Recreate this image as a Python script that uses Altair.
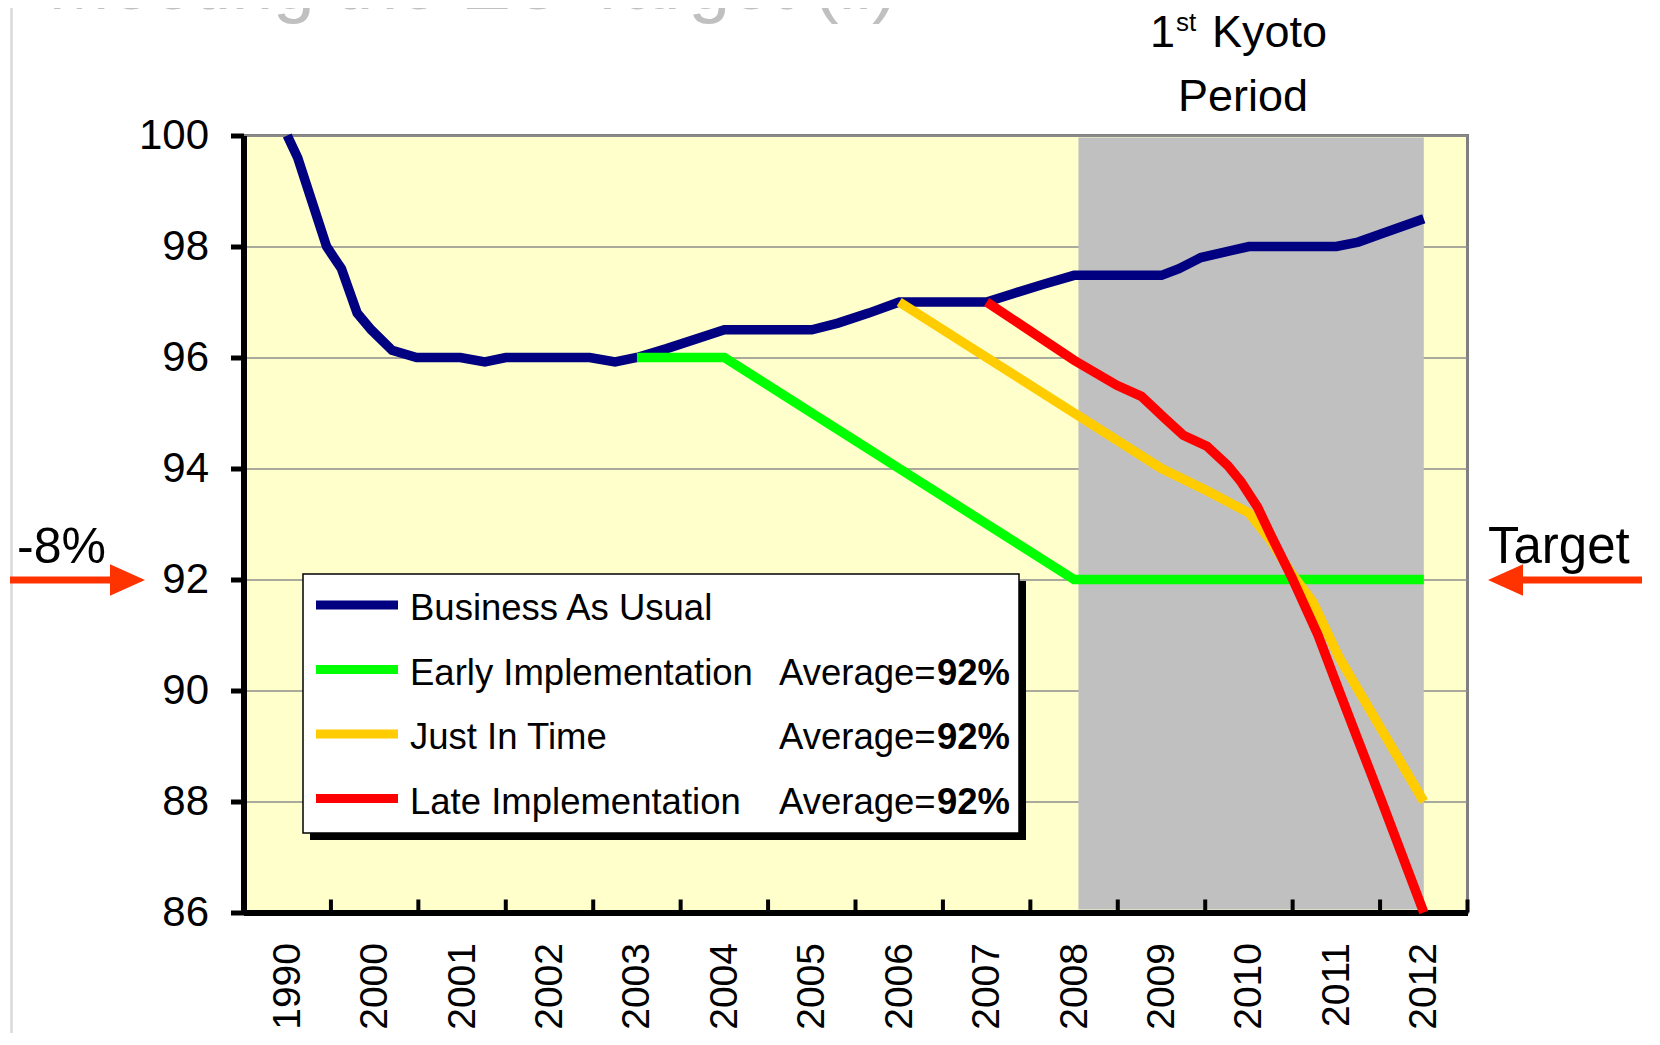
import altair as alt
import pandas as pd

# ---------------- data ----------------
categories = ["1990", "2000", "2001", "2002", "2003", "2004", "2005",
              "2006", "2007", "2008", "2009", "2010", "2011", "2012"]
series_names = ["Business As Usual", "Early Implementation",
                "Just In Time", "Late Implementation"]
series_colors = ["#000080", "#00FF00", "#FFCC00", "#FF0000"]
avg_labels = ["", "92%", "92%", "92%"]
y_ticks = [86, 88, 90, 92, 94, 96, 98, 100]

# positions are category indices (0 = 1990, 1 = 2000, ... 13 = 2012)
bau_pos = [0, 0.12, 0.45, 0.62, 0.80, 0.96, 1.2, 1.48, 1.98, 2.26, 2.5, 3.46,
           3.75, 4.0, 4.34, 5.0, 6.0, 6.3, 6.65, 7.0, 8.0, 8.3, 8.65, 9.0,
           10.0, 10.2, 10.45, 10.72, 11.0, 12.0, 12.25, 12.5, 13.0]
bau_val = [100, 99.6, 98.0, 97.6, 96.8, 96.5, 96.13, 96.0, 96.0, 95.92, 96.0,
           96.0, 95.92, 96.0, 96.16, 96.5, 96.5, 96.62, 96.8, 97.0, 97.0,
           97.15, 97.32, 97.48, 97.48, 97.6, 97.8, 97.9, 98.0, 98.0, 98.08,
           98.22, 98.5]
early_pos = [4, 5, 6, 7, 8, 9, 10, 11, 12, 13]
early_val = [96, 96, 95, 94, 93, 92, 92, 92, 92, 92]
jit_pos = [7, 8, 9, 10, 10.52, 11, 11.25, 11.49, 11.73, 12.03, 13]
jit_val = [97, 96, 95, 94, 93.6, 93.2, 92.7, 92.1, 91.6, 90.6, 88]
late_pos = [8, 9, 9.49, 9.77, 10.04, 10.25, 10.52, 10.76, 10.91, 11.1, 11.25,
            11.49, 11.79, 12.03, 12.25, 12.52, 13.0]
late_val = [97.0, 95.95, 95.5, 95.3, 94.9, 94.6, 94.4, 94.05, 93.76, 93.3,
            92.8, 92.04, 91.0, 90.0, 89.1, 88.0, 86.0]
kyoto_start = 9.05
kyoto_end = 13.0

title_text = "Meeting the EU Target (ii)"
kyoto_one, kyoto_sup, kyoto_word, kyoto_line2 = "1", "st", "Kyoto", "Period"
left_label = "-8%"
right_label = "Target"
avg_prefix = "Average="

# ---------------- layout ----------------
FONT = "Liberation Sans, Arial, sans-serif"
W, H = 1224, 777
PAD_L, PAD_T = 235.5, 127.5
TOTAL_W, TOTAL_H = 1640, 1025
PAD_R = TOTAL_W - PAD_L - W
PAD_B = TOTAL_H - PAD_T - H
ORG_X, ORG_Y = 8 + PAD_L, 8 + PAD_T


def rx(px):
    return px - ORG_X


def ry(py):
    return py - ORG_Y


one = pd.DataFrame({"k": [0]})

rows = []
for name, pos, val in zip(series_names,
                          [bau_pos, early_pos, jit_pos, late_pos],
                          [bau_val, early_val, jit_val, late_val]):
    for p, v in zip(pos, val):
        rows.append({"x": p, "y": v, "series": name})
df = pd.DataFrame(rows)

x_scale = alt.Scale(domain=[-0.5, len(categories) - 0.5], nice=False, zero=False)
y_scale = alt.Scale(domain=[86, 100], nice=False, zero=False)

label_expr = "[" + ",".join("'" + c + "'" for c in categories) + "][datum.value]"
x_axis = alt.Axis(values=list(range(len(categories))), labelExpr=label_expr,
                  labelAngle=270, labelAlign="right", labelBaseline="middle",
                  labelFontSize=39, labelFont=FONT, labelColor="black",
                  labelPadding=30, ticks=False, tickSize=0,
                  domainColor="black", domainWidth=6, grid=False,
                  labelOverlap=False, labelFlush=False, title=None)
y_axis = alt.Axis(values=y_ticks, labelFontSize=42, labelFont=FONT,
                  labelColor="black", labelPadding=22, tickSize=13,
                  tickWidth=5, tickColor="black", domainColor="black",
                  domainWidth=6, gridColor="#8C8C8C", gridWidth=1.5,
                  labelOverlap=False, labelFlush=False, title=None)

layers = []

# Kyoto band
band_df = pd.DataFrame({"start": [kyoto_start], "end": [kyoto_end]})
layers.append(
    alt.Chart(band_df).mark_rect(color="#C0C0C0").encode(
        x=alt.X("start:Q", scale=x_scale, axis=x_axis, title=None),
        x2="end:Q",
        y=alt.value(2), y2=alt.value(H - 3))
)

# inward x ticks at category boundaries
tick_df = pd.DataFrame({"b": [k + 0.5 for k in range(len(categories))]})
layers.append(
    alt.Chart(tick_df).mark_rule(color="black", strokeWidth=4).encode(
        x=alt.X("b:Q", scale=x_scale, axis=x_axis, title=None),
        y=alt.value(H - 13), y2=alt.value(H))
)

# lines
layers.append(
    alt.Chart(df).mark_line(strokeWidth=9.5, strokeCap="butt",
                            strokeJoin="miter").encode(
        x=alt.X("x:Q", scale=x_scale, axis=x_axis, title=None),
        y=alt.Y("y:Q", scale=y_scale, axis=y_axis, title=None),
        color=alt.Color("series:N",
                        scale=alt.Scale(domain=series_names, range=series_colors),
                        legend=None),
        detail="series:N")
)

# legend (drawn manually)
LX0, LX1, LY0, LY1 = 303, 1019, 574, 833
LFS = 36.5
layers.append(alt.Chart(one).mark_rect(color="black").encode(
    x=alt.value(rx(LX0 + 7)), x2=alt.value(rx(LX1 + 7)),
    y=alt.value(ry(LY0 + 7)), y2=alt.value(ry(LY1 + 7))))
layers.append(alt.Chart(one).mark_rect(fill="white", stroke="black",
                                       strokeWidth=1.5).encode(
    x=alt.value(rx(LX0)), x2=alt.value(rx(LX1)),
    y=alt.value(ry(LY0)), y2=alt.value(ry(LY1))))
for k, (name, col, avg) in enumerate(zip(series_names, series_colors, avg_labels)):
    cy = 605 + 64.5 * k
    base = 620 + 64.5 * k
    layers.append(alt.Chart(one).mark_rule(color=col, strokeWidth=9,
                                           strokeCap="butt").encode(
        x=alt.value(rx(316)), x2=alt.value(rx(398)), y=alt.value(ry(cy))))
    layers.append(alt.Chart(one).mark_text(text=name, font=FONT, fontSize=LFS,
                                           align="left", baseline="alphabetic",
                                           color="black").encode(
        x=alt.value(rx(410)), y=alt.value(ry(base))))
    if avg:
        layers.append(alt.Chart(one).mark_text(text=avg_prefix, font=FONT,
                                               fontSize=LFS, align="left",
                                               baseline="alphabetic",
                                               color="black").encode(
            x=alt.value(rx(779)), y=alt.value(ry(base))))
        layers.append(alt.Chart(one).mark_text(text=avg, font=FONT,
                                               fontSize=LFS, fontWeight="bold",
                                               align="left",
                                               baseline="alphabetic",
                                               color="black").encode(
            x=alt.value(rx(937)), y=alt.value(ry(base))))


def text_layer(txt, px, py, size, color="black", align="left", weight="normal"):
    return alt.Chart(one).mark_text(text=txt, font=FONT, fontSize=size,
                                    align=align, baseline="alphabetic",
                                    color=color, fontWeight=weight).encode(
        x=alt.value(rx(px)), y=alt.value(ry(py)))


# faded slide title (cut off at top)
layers.append(text_layer(title_text, 48, 9, 75, color="#C0C0C0"))
# thin slide edge line
layers.append(alt.Chart(one).mark_rule(color="#D9D9D9", strokeWidth=2.5).encode(
    x=alt.value(rx(11.5)), y=alt.value(-PAD_T), y2=alt.value(H + PAD_B)))

# Kyoto annotation
layers.append(text_layer(kyoto_one, 1150, 47, 45))
layers.append(text_layer(kyoto_sup, 1176, 31, 26))
layers.append(text_layer(kyoto_word, 1212, 47, 45))
layers.append(text_layer(kyoto_line2, 1243, 111, 45, align="center"))

# -8% and Target annotations with arrows
ARROW = "#FF3300"
layers.append(text_layer(left_label, 17, 563, 50))
layers.append(text_layer(right_label, 1488, 563, 51))
layers.append(alt.Chart(one).mark_rule(color=ARROW, strokeWidth=7).encode(
    x=alt.value(rx(10)), x2=alt.value(rx(115)), y=alt.value(ry(580))))
layers.append(alt.Chart(one).mark_point(shape="M -1 -0.9 L 1 0 L -1 0.9 Z",
                                        filled=True, size=1225, color=ARROW,
                                        opacity=1, strokeWidth=0).encode(
    x=alt.value(rx(127.5)), y=alt.value(ry(580))))
layers.append(alt.Chart(one).mark_rule(color=ARROW, strokeWidth=7).encode(
    x=alt.value(rx(1518)), x2=alt.value(rx(1642)), y=alt.value(ry(580))))
layers.append(alt.Chart(one).mark_point(shape="M 1 -0.9 L -1 0 L 1 0.9 Z",
                                        filled=True, size=1225, color=ARROW,
                                        opacity=1, strokeWidth=0).encode(
    x=alt.value(rx(1505.5)), y=alt.value(ry(580))))

chart = alt.layer(*layers).properties(
    width=W, height=H,
    autosize=alt.AutoSizeParams(type="none"),
    padding={"left": PAD_L, "top": PAD_T, "right": PAD_R, "bottom": PAD_B},
).configure(background="white").configure_view(
    fill="#FFFFCC", stroke="#808080", strokeWidth=3)

chart.save("out.html", embed_options={"renderer": "svg", "actions": False})
